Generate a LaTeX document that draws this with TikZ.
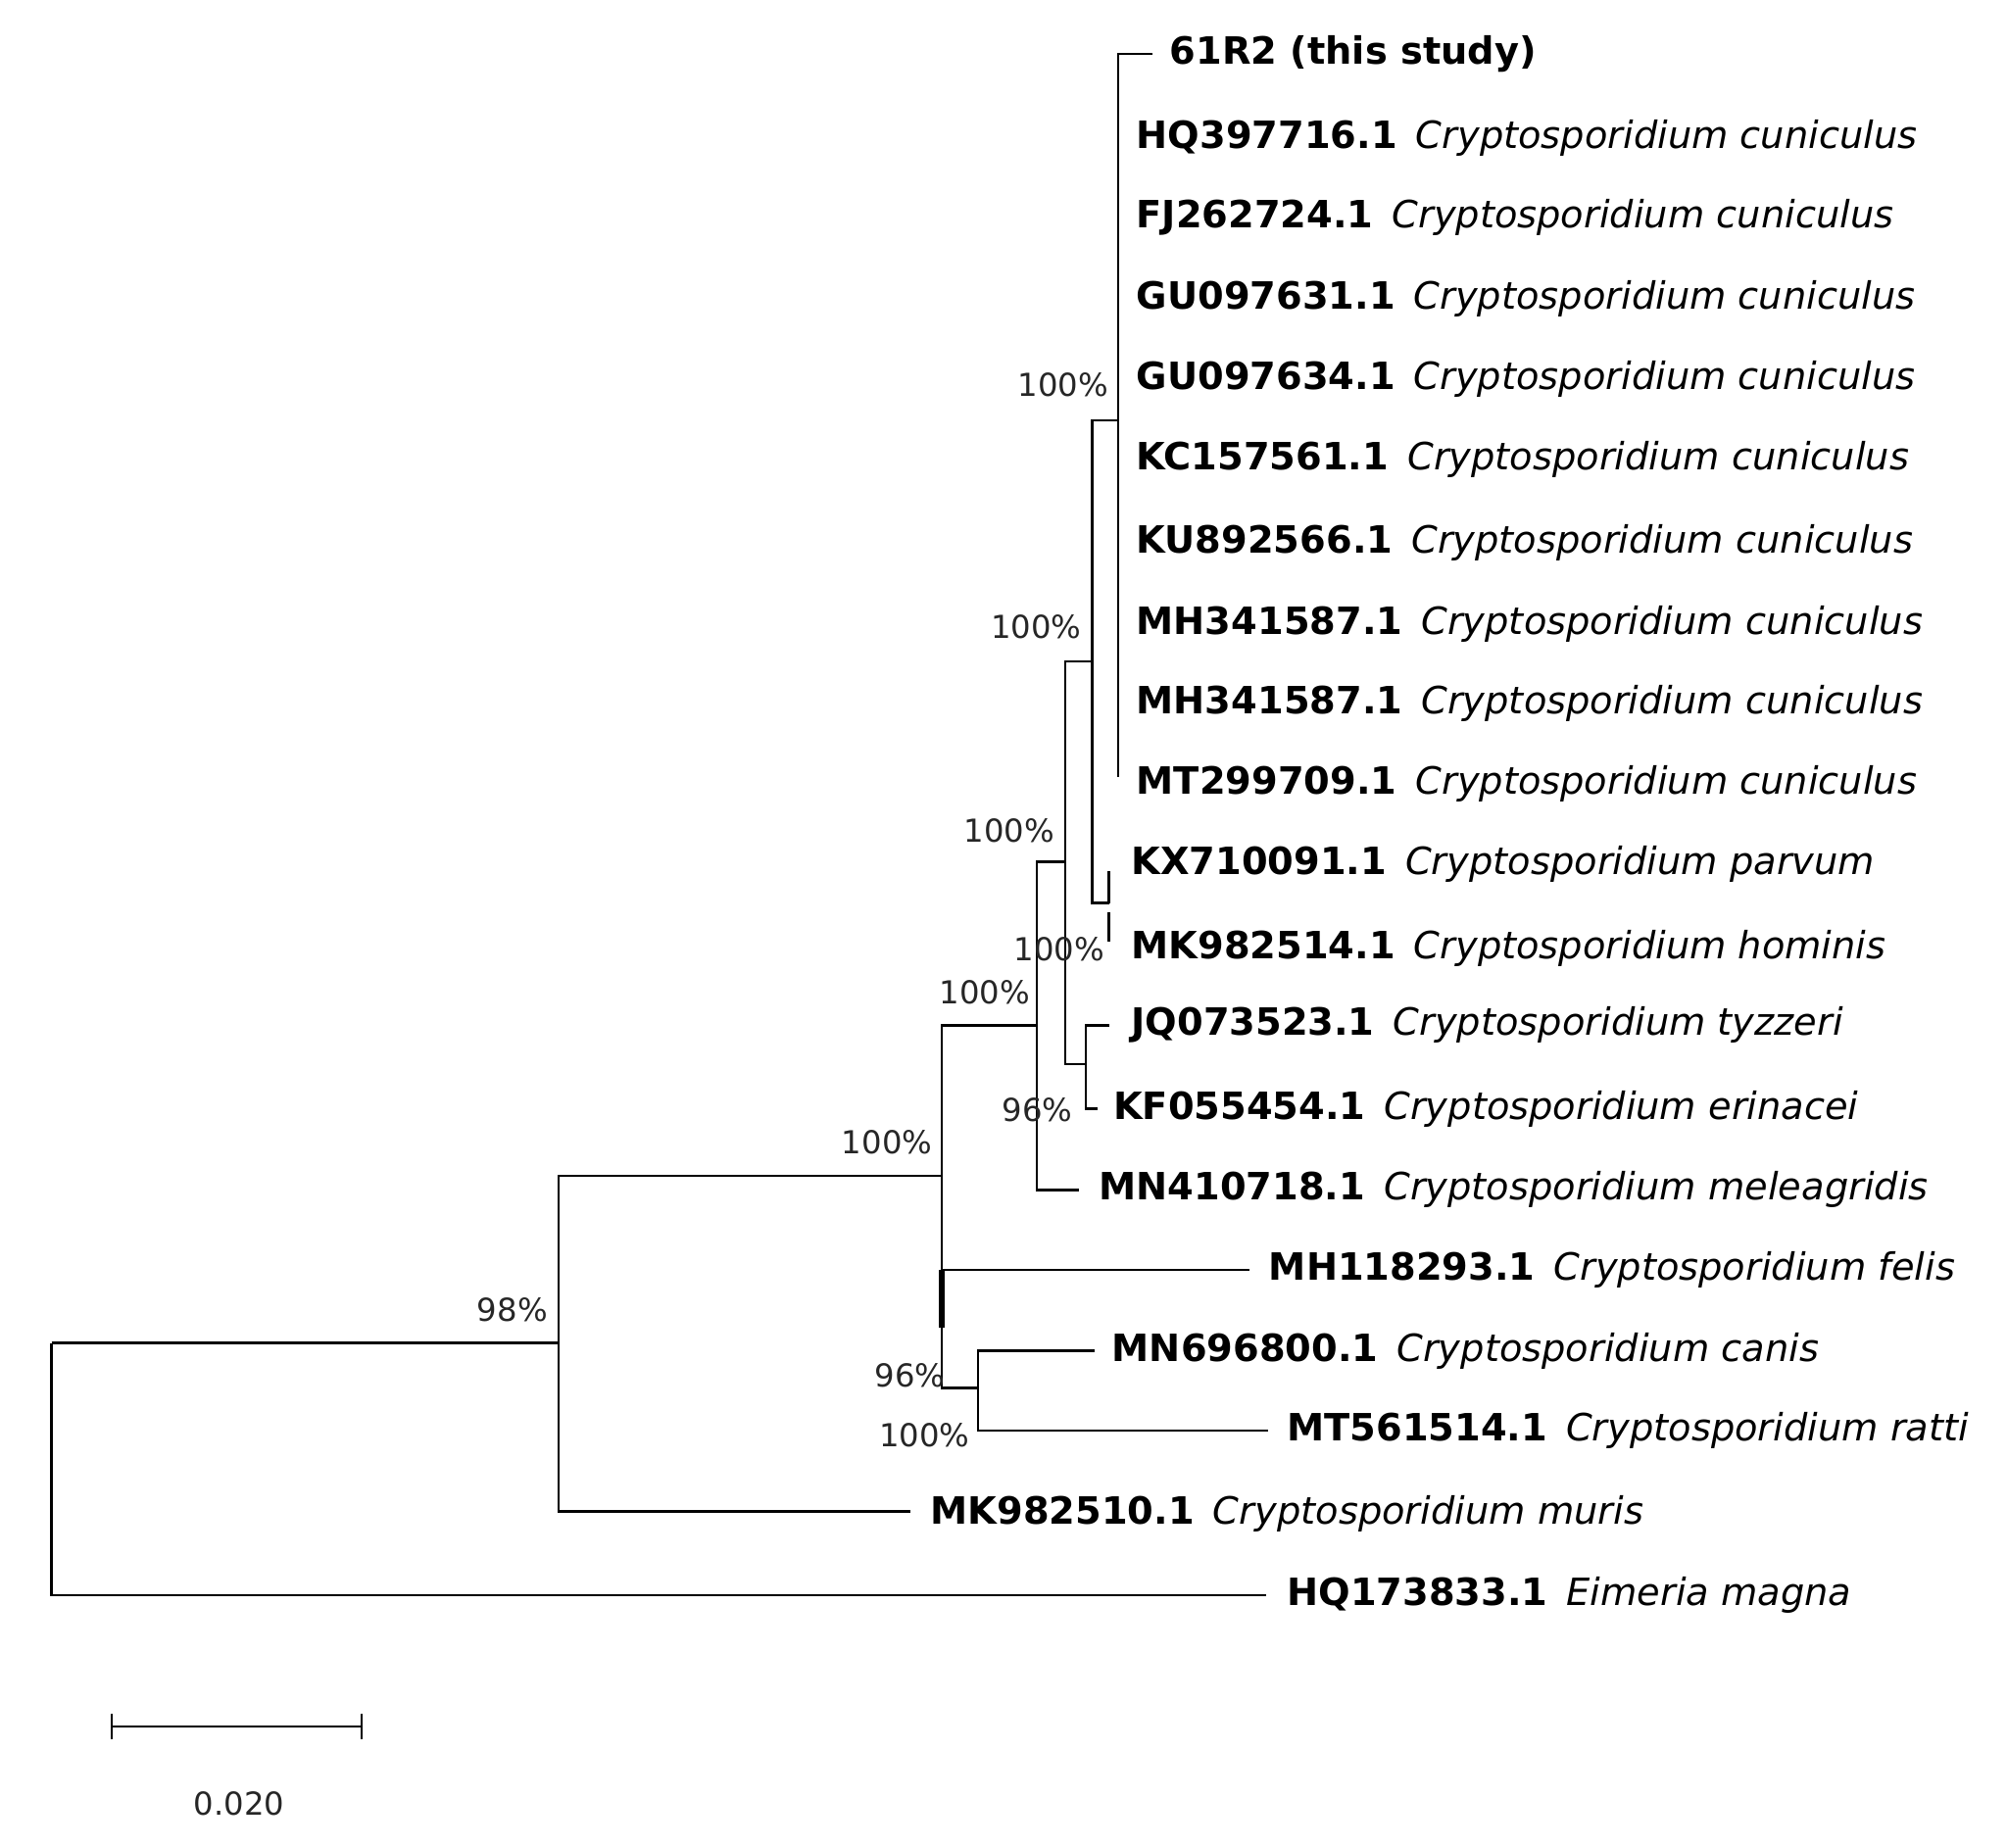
\documentclass[tikz,border=0pt]{standalone}
\usepackage{fontspec}
\setmainfont{DejaVu Sans}
\newfontfamily\pctfont{DejaVu Sans}
\begin{document}
\begin{tikzpicture}[x=0.5pt,y=-0.5pt,
  br/.style={line width=0.9pt},
  tip/.style={anchor=west,inner sep=0pt,font=\fontsize{14.6}{17}\selectfont},
  pct/.style={inner sep=0pt,font=\pctfont\fontsize{12.3}{14}\selectfont,text=black!85}]
\useasboundingbox (4,3) rectangle (1564,1439);
% tip labels
\newcommand{\tx}[4]{\node[tip] (#1) at (#2,#3) {#4};}
\tx{t1}{913}{45}{\textbf{61R2 (this study)}}
\tx{t2}{887}{110}{\textbf{HQ397716.1}\hspace{0.5em}\textit{Cryptosporidium cuniculus}}
\tx{t3}{887}{172}{\textbf{FJ262724.1}\hspace{0.5em}\textit{Cryptosporidium cuniculus}}
\tx{t4}{887}{235}{\textbf{GU097631.1}\hspace{0.5em}\textit{Cryptosporidium cuniculus}}
\tx{t5}{887}{298}{\textbf{GU097634.1}\hspace{0.5em}\textit{Cryptosporidium cuniculus}}
\tx{t6}{887}{360}{\textbf{KC157561.1}\hspace{0.5em}\textit{Cryptosporidium cuniculus}}
\tx{t7}{887}{425}{\textbf{KU892566.1}\hspace{0.5em}\textit{Cryptosporidium cuniculus}}
\tx{t8}{887}{488}{\textbf{MH341587.1}\hspace{0.5em}\textit{Cryptosporidium cuniculus}}
\tx{t9}{887}{550}{\textbf{MH341587.1}\hspace{0.5em}\textit{Cryptosporidium cuniculus}}
\tx{t10}{887}{612}{\textbf{MT299709.1}\hspace{0.5em}\textit{Cryptosporidium cuniculus}}
\tx{t11}{883}{675}{\textbf{KX710091.1}\hspace{0.5em}\textit{Cryptosporidium parvum}}
\tx{t12}{883}{740}{\textbf{MK982514.1}\hspace{0.5em}\textit{Cryptosporidium hominis}}
\tx{t13}{883}{800}{\textbf{JQ073523.1}\hspace{0.5em}\textit{Cryptosporidium tyzzeri}}
\tx{t14}{869}{865}{\textbf{KF055454.1}\hspace{0.5em}\textit{Cryptosporidium erinacei}}
\tx{t15}{858}{928}{\textbf{MN410718.1}\hspace{0.5em}\textit{Cryptosporidium meleagridis}}
\tx{t16}{990}{990}{\textbf{MH118293.1}\hspace{0.5em}\textit{Cryptosporidium felis}}
\tx{t17}{868}{1053}{\textbf{MN696800.1}\hspace{0.5em}\textit{Cryptosporidium canis}}
\tx{t18}{1004}{1115}{\textbf{MT561514.1}\hspace{0.5em}\textit{Cryptosporidium ratti}}
\tx{t19}{727}{1180}{\textbf{MK982510.1}\hspace{0.5em}\textit{Cryptosporidium muris}}
\tx{t20}{1004}{1243}{\textbf{HQ173833.1}\hspace{0.5em}\textit{Eimeria magna}}
% internal nodes
\coordinate (cun) at (873,330);
\coordinate (A) at (853,517);
\coordinate (km) at (866,705);
\coordinate (B) at (832,673);
\coordinate (jk) at (848,830);
\coordinate (C) at (810,800);
\coordinate (F) at (736,917);
\coordinate (E) at (764,1082);
\coordinate (G) at (438,1047);
\coordinate (R) at (44,1047);
\coordinate (e1) at (900,45);
\coordinate (e11) at (866,680);
\coordinate (e12) at (866,735);
\coordinate (e13) at (866,800);
\coordinate (e14) at (857,865);
\coordinate (e15) at (843,928);
\coordinate (e16) at (975,990);
\coordinate (e17) at (855,1053);
\coordinate (e18) at (990,1115);
\coordinate (e19) at (712,1178);
\coordinate (e20) at (988,1243);
\begin{scope}[br]
\draw (e1) -| (873,45) -- (873,607);
\draw (A) |- (cun);
\draw (A) |- (km);
\draw (e11) -- (866,700) (866,712) -- (e12);
\draw (km) -- (866,700);
\draw (B) |- (A);
\draw (B) |- (jk);
\draw (jk) |- (e13);
\draw (jk) |- (e14);
\draw (C) |- (B);
\draw (C) |- (e15);
\draw (F) |- (C);
\draw (F) |- (e16);
\draw (F) -- (736,1082) -- (E);
\draw (E) |- (e17);
\draw (E) |- (e18);
\draw (G) |- (F);
\draw (G) |- (e19);
\draw (R) |- (G);
\draw (R) |- (e20);
\draw[line width=2pt] (736,990) -- (736,1035);
\end{scope}
% support values
\node[pct,anchor=base east] (p1) at (866,311) {100\%};
\node[pct,anchor=base east] (p2) at (845,499) {100\%};
\node[pct,anchor=base east] (p3) at (824,658) {100\%};
\node[pct,anchor=base east] (p4) at (863,750) {100\%};
\node[pct,anchor=base east] (p5) at (805,783) {100\%};
\node[pct,anchor=base east] (p6) at (838,875) {96\%};
\node[pct,anchor=base east] (p7) at (729,900) {100\%};
\node[pct,anchor=base east] (p8) at (430,1030) {98\%};
\node[pct,anchor=base east] (p9) at (739,1081) {96\%};
\node[pct,anchor=base east] (p10) at (758,1128) {100\%};
% scale bar
\coordinate (s1) at (91,1345);
\coordinate (s2) at (285,1345);
\draw[br] (s1) -- (s2) (91,1335) -- (91,1355) (285,1335) -- (285,1355);
\node[pct] (sl) at (190,1405) {0.020};
\end{tikzpicture}
\end{document}
